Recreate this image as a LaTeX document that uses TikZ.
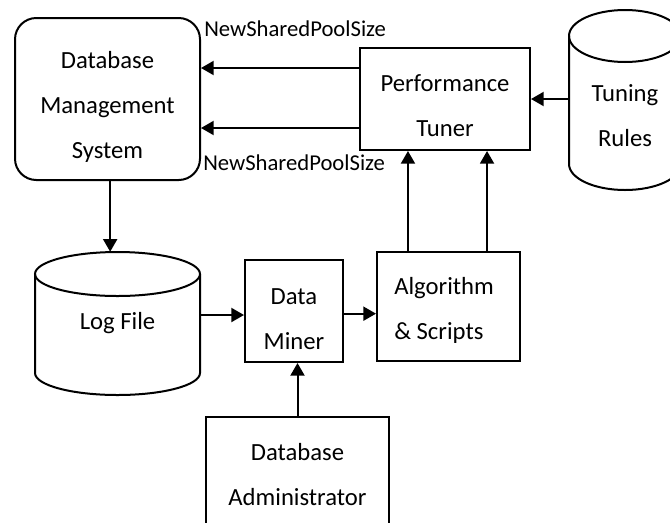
\documentclass[tikz,border=0pt]{standalone}
\usepackage{fontspec}
\setmainfont{Carlito}
\usetikzlibrary{arrows.meta}
\begin{document}
\begin{tikzpicture}[x=0.75pt,y=-0.75pt,
  line/.style={line width=1.5pt},
  arr/.style={line, -{Triangle[length=9.5pt,width=10.5pt]}},
  txt/.style={font=\fontsize{18.5}{33.75}\selectfont, align=center, inner sep=0pt},
  lbl/.style={font=\fontsize{17}{20}\selectfont, inner sep=0pt},
  box/.style={draw, line, inner sep=0pt},
]
\useasboundingbox (0,0) rectangle (670,522);
\fill[white] (0,0) rectangle (670,522);
\clip (0,0) rectangle (670,522);

% DBMS
\node[box, rounded corners=16pt, minimum width=138.75pt, minimum height=121.5pt] (dbms) at (107.5,99) {};
\node[txt] (dbmst) at (107.5,106.5) {Database\\Management\\System};
% Performance Tuner
\node[box, minimum width=127.5pt, minimum height=76.5pt] (pt) at (445,99) {};
\node[txt] (ptt) at (445,106) {Performance\\Tuner};
% Tuning Rules cylinder
\draw[line] (569,36) -- (569,164) arc[start angle=180,end angle=360,x radius=42pt,y radius=19.5pt] -- (681,36);
\draw[line] (625,36) ellipse [x radius=42pt, y radius=19.5pt];
\node[minimum width=84pt, minimum height=115.5pt, inner sep=0pt] (tr) at (625,113) {};
\node[txt] (trt) at (625,115.5) {Tuning\\Rules};
% Log File cylinder
\draw[line] (35,274) -- (35,373) arc[start angle=180,end angle=360,x radius=61.875pt,y radius=16.5pt] -- (200,274);
\draw[line] (117.5,274) ellipse [x radius=61.875pt, y radius=16.5pt];
\node[txt, minimum width=123.75pt, minimum height=107.25pt] (log) at (117.5,323.5) {Log File};
% Data Miner
\node[box, minimum width=73.5pt, minimum height=76.5pt] (dm) at (294,311) {};
\node[txt] (dmt) at (294,319.5) {Data\\Miner};
% Algorithm & Scripts
\node[box, minimum width=107.25pt, minimum height=81.75pt] (alg) at (448.5,306.5) {};
\node[txt, align=left, anchor=west] (algt) at (394,310) {Algorithm\\\& Scripts};
% Database Administrator
\node[box, minimum width=137.25pt, minimum height=92.25pt] (dba) at (297.5,478.5) {};
\node[txt] (dbat) at (297.5,475) {Database\\Administrator};

% labels
\node[lbl, anchor=west] (l1) at (204,29) {NewSharedPoolSize};
\node[lbl, anchor=west] (l2) at (203,163) {NewSharedPoolSize};

% connectors
\draw[arr] ([yshift=23.25pt]pt.west) -- ([yshift=23.25pt]pt.west -| dbms.east);
\draw[arr] ([yshift=-21.75pt]pt.west) -- ([yshift=-21.75pt]pt.west -| dbms.east);
\draw[arr] (tr.west |- pt.east) -- (pt.east);
\draw[arr] ([xshift=2pt]dbms.south) -- ([xshift=2pt]dbms.south |- log.north);
\draw[arr] ([yshift=-3pt]log.east |- dm.west) -- ([yshift=-3pt]dm.west);
\draw[arr] ([yshift=-2pt]dm.east) -- ([yshift=-2pt]dm.east -| alg.west);
\draw[arr] ([xshift=-30.4pt]alg.north) -- ([xshift=-30.4pt]alg.north |- pt.south);
\draw[arr] ([xshift=28.9pt]alg.north) -- ([xshift=28.9pt]alg.north |- pt.south);
\draw[arr] (dba.north) -- (dba.north |- dm.south);
\end{tikzpicture}
\end{document}
